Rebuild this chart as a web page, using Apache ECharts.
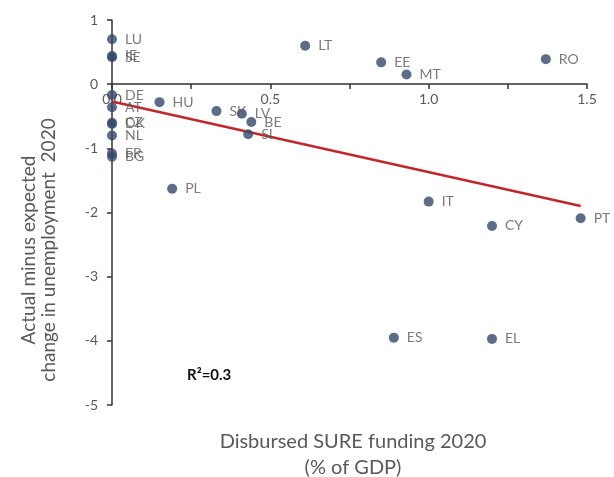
<!DOCTYPE html>
<html>
<head>
<meta charset="utf-8">
<script src="https://cdn.jsdelivr.net/npm/echarts@6/dist/echarts.min.js"></script>
<style>
  html, body { margin: 0; padding: 0; background: #fff; }
  #chart { width: 614px; height: 477px; }
</style>
</head>
<body>
<div id="chart"></div>
<script>
// country codes, SURE funding (% of GDP) and unemployment surprise
const countries = ['LU', 'IE', 'SE', 'DE', 'AT', 'CZ', 'DK', 'NL', 'FR', 'BG',
  'HU', 'SK', 'LV', 'BE', 'SI', 'PL', 'LT', 'EE', 'MT', 'RO', 'IT', 'CY', 'PT', 'ES', 'EL']
const funding = [0, 0, 0, 0, 0, 0, 0, 0, 0, 0,
  0.15, 0.33, 0.41, 0.44, 0.43, 0.19, 0.61, 0.85, 0.93, 1.37, 1.0, 1.2, 1.48, 0.89, 1.2]
const unempGap = [0.7, 0.44, 0.42, -0.17, -0.36, -0.6, -0.62, -0.8, -1.08, -1.13,
  -0.28, -0.42, -0.46, -0.59, -0.78, -1.63, 0.6, 0.34, 0.15, 0.39, -1.83, -2.21, -2.09, -3.95, -3.97]
const trendX = [0, 1.48]
const trendY = [-0.27, -1.9]
const xTicks = [0, 0.5, 1.0, 1.5]

const font = 'Lato, "Open Sans", sans-serif'
const grey = '#595959'

const chart = echarts.init(document.getElementById('chart'))

const points = countries.map((c, i) => ({ name: c, value: [funding[i], unempGap[i]] }))

// grid: y=1 at 20px, y=-5 at 405px -> zero line sits 321px above the bottom
chart.setOption({
  backgroundColor: '#fff',
  animation: false,
  grid: { left: 112, right: 27, top: 20, bottom: 72 },
  graphic: [
    {
      type: 'text',
      x: 39, y: 250,
      rotation: Math.PI / 2,
      style: {
        text: 'Actual minus expected\nchange in unemployment  2020',
        fill: grey, font: '19px ' + font, lineHeight: 20,
        textAlign: 'center', textVerticalAlign: 'middle'
      }
    },
    {
      type: 'text',
      x: 353, y: 455,
      style: {
        text: 'Disbursed SURE funding 2020\n(% of GDP)',
        fill: grey, font: '20px ' + font, lineHeight: 26,
        textAlign: 'center', textVerticalAlign: 'middle'
      }
    },
    {
      type: 'text', left: 187, top: 368,
      style: { text: 'R²=0.3', fill: '#111', font: 'bold 15px ' + font }
    }
  ],
  xAxis: {
    type: 'value', min: 0, max: 1.5, interval: 0.25,
    position: 'bottom', offset: -321,
    axisLine: { onZero: false, lineStyle: { color: '#333', width: 1.5 } },
    axisTick: { show: true, length: 5, lineStyle: { color: '#333', width: 1.5 } },
    axisLabel: {
      color: grey, fontFamily: font, fontSize: 14, margin: 8,
      formatter: v => xTicks.some(t => Math.abs(t - v) < 1e-6) ? v.toFixed(1) : ''
    },
    splitLine: { show: false }
  },
  yAxis: {
    type: 'value', min: -5, max: 1, interval: 1,
    axisLine: { show: true, onZero: false, lineStyle: { color: '#333', width: 1.5 } },
    axisTick: { show: true, length: 5, lineStyle: { color: '#333', width: 1.5 } },
    axisLabel: { color: grey, fontFamily: font, fontSize: 14, margin: 14 },
    splitLine: { show: false }
  },
  series: [
    {
      type: 'line',
      data: trendX.map((x, i) => [x, trendY[i]]),
      symbol: 'none',
      lineStyle: { color: '#c0282d', width: 2.5 },
      z: 1
    },
    {
      type: 'scatter',
      data: points,
      symbolSize: 10,
      itemStyle: { color: '#34496a' },
      label: {
        show: true, position: 'right', distance: 8,
        formatter: p => p.name,
        color: grey, fontFamily: font, fontSize: 14
      },
      z: 3
    }
  ]
})
</script>
</body>
</html>
